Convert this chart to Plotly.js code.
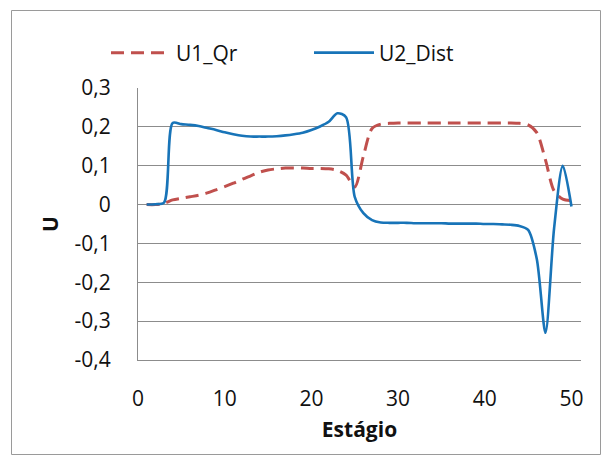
<!DOCTYPE html>
<html>
<head>
<meta charset="utf-8">
<script src="https://cdn.plot.ly/plotly-3.0.1.min.js"></script>
<style>
  html, body { margin: 0; padding: 0; background: #fff; }
  #chart { width: 603px; height: 457px; }
</style>
</head>
<body>
<div id="chart"></div>
<script>
// Stage numbers (Estágio)
const stages = [
  1, 2, 3, 4, 5, 6, 7, 8, 9, 10,
  11, 12, 13, 14, 15, 16, 17, 18, 19, 20,
  21, 22, 23, 24, 25, 26, 27, 28, 29, 30,
  31, 32, 33, 34, 35, 36, 37, 38, 39, 40,
  41, 42, 43, 44, 45, 46, 47, 48, 49, 50
];

// Control input U1_Qr per stage
const u1Qr = [
  0.000, 0.000, 0.003, 0.012, 0.016, 0.020, 0.024, 0.030, 0.038, 0.046,
  0.055, 0.065, 0.074, 0.083, 0.089, 0.092, 0.094, 0.094, 0.094, 0.093,
  0.093, 0.092, 0.088, 0.076, 0.045, 0.125, 0.196, 0.207, 0.209, 0.210,
  0.210, 0.210, 0.210, 0.210, 0.210, 0.210, 0.210, 0.210, 0.210, 0.210,
  0.210, 0.210, 0.210, 0.209, 0.205, 0.185, 0.115, 0.035, 0.014, 0.010
];

// Control input U2_Dist per stage
const u2Dist = [
  0.000, 0.001, 0.005, 0.210, 0.207, 0.205, 0.202, 0.197, 0.192, 0.186,
  0.181, 0.177, 0.175, 0.175, 0.175, 0.176, 0.178, 0.181, 0.185, 0.192,
  0.201, 0.213, 0.235, 0.225, 0.020, -0.022, -0.040, -0.046, -0.047, -0.047,
  -0.047, -0.048, -0.048, -0.048, -0.048, -0.049, -0.049, -0.049, -0.049, -0.050,
  -0.050, -0.051, -0.052, -0.055, -0.065, -0.140, -0.330, -0.060, 0.100, -0.005
];

// Axis ticks
const xTickVals = [0, 10, 20, 30, 40, 50];
const yTickVals = [0.3, 0.2, 0.1, 0, -0.1, -0.2, -0.3, -0.4];
const yTickText = ['0,3', '0,2', '0,1', '0', '-0,1', '-0,2', '-0,3', '-0,4'];

const FONT = '"Open Sans", "DejaVu Sans", sans-serif';
const GRID = '#8c8c8c';

const traces = [
  {
    x: stages, y: u1Qr, name: 'U1_Qr', type: 'scatter', mode: 'lines',
    line: { color: '#C0504D', width: 3, dash: '13px,7px', shape: 'spline', smoothing: 0.8 }
  },
  {
    x: stages, y: u2Dist, name: 'U2_Dist', type: 'scatter', mode: 'lines',
    line: { color: '#1874B8', width: 2.6, shape: 'spline', smoothing: 0.8 }
  }
];

// plot area: 138..581 px horizontally, 88..360 px vertically
const M = { l: 138, r: 22, t: 88, b: 97 };
const PW = 603 - M.l - M.r, PH = 457 - M.t - M.b;
const px2x = p => (p - M.l) / PW;
const px2y = p => (457 - M.b - p) / PH;

const layout = {
  width: 603, height: 457,
  margin: M,
  paper_bgcolor: '#fff', plot_bgcolor: '#fff',
  separators: ',.',
  font: { family: FONT, size: 21, color: '#111' },
  showlegend: true,
  legend: {
    orientation: 'h', x: px2x(106), y: px2y(53), xanchor: 'left', yanchor: 'middle',
    itemwidth: 60, entrywidth: 128, entrywidthmode: 'pixels',
    font: { family: FONT, size: 21, color: '#111' },
    bgcolor: 'rgba(0,0,0,0)', traceorder: 'normal'
  },
  xaxis: {
    range: [0, 51.1], tickvals: xTickVals, showgrid: false, zeroline: false,
    showline: true, linecolor: GRID, linewidth: 1,
    ticks: 'outside', ticklen: 20, tickcolor: 'rgba(0,0,0,0)',
    tickfont: { family: FONT, size: 21, color: '#111' },
    title: { text: '<b>Estágio</b>', font: { family: FONT, size: 21, color: '#111' }, standoff: 11 }
  },
  yaxis: {
    range: [-0.4, 0.3], tickvals: yTickVals, ticktext: yTickText,
    showgrid: true, gridcolor: GRID, gridwidth: 1, zeroline: false,
    showline: true, linecolor: GRID, linewidth: 1,
    ticks: 'outside', ticklen: 22, tickcolor: 'rgba(0,0,0,0)',
    tickfont: { family: FONT, size: 21, color: '#111' },
    title: { text: '<b>U</b>', font: { family: FONT, size: 21, color: '#111' }, standoff: 10 }
  },
  shapes: [
    {
      type: 'rect', xref: 'paper', yref: 'paper', layer: 'below',
      x0: px2x(11.5), x1: px2x(600.5), y0: px2y(454.5), y1: px2y(10.5),
      line: { color: '#9a9a9a', width: 1 }, fillcolor: 'rgba(0,0,0,0)'
    }
  ]
};

Plotly.newPlot('chart', traces, layout, { displayModeBar: false, staticPlot: true });
</script>
</body>
</html>
